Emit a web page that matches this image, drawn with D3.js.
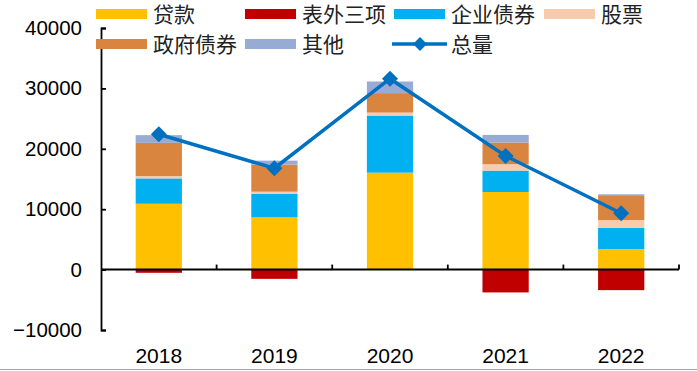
<!DOCTYPE html>
<head>
<meta charset="utf-8">
<title>社融结构</title>
<script src="https://cdnjs.cloudflare.com/ajax/libs/d3/7.8.5/d3.min.js"></script>
<style>
body { margin:0; background:#fff; }
text { font-family: "Liberation Sans", Arial, sans-serif; fill:#000; }
.leg text { font-family: "Liberation Sans", "Noto Sans CJK SC", sans-serif; fill:#222; }
</style>
</head>
<body>
<script>
// data
var years = ["2018", "2019", "2020", "2021", "2022"];
var loans    = [10900, 8660, 16050, 12850, 3400];   // 贷款
var offBS    = [-530, -1530, 0, -3780, -3400];      // 表外三项
var corpBond = [4200, 3910, 9450, 3540, 3530];      // 企业债券
var equity   = [380, 330, 500, 1060, 1280];         // 股票
var govBond  = [5500, 4480, 3220, 3580, 3980];      // 政府债券
var others   = [1280, 660, 1920, 1270, 280];        // 其他
var total    = [22400, 16780, 31600, 18820, 9320];  // 总量
var yTicks = [-10000, 0, 10000, 20000, 30000, 40000];

var keys = ["贷款", "表外三项", "企业债券", "股票", "政府债券", "其他"];
var colors = {"贷款":"#FFC000", "表外三项":"#C00000", "企业债券":"#00B0F0",
  "股票":"#F8CBAD", "政府债券":"#D9843F", "其他":"#97ABD4"};
var lineColor = "#0070C0";

var rows = years.map(function(y, i){
  return {year:y, "贷款":loans[i], "表外三项":offBS[i], "企业债券":corpBond[i],
    "股票":equity[i], "政府债券":govBond[i], "其他":others[i], total:total[i]};
});

var svg = d3.select("body").append("svg")
  .attr("width", 697).attr("height", 371);

var x = d3.scaleBand().domain(years).range([101, 679]).padding(0);
var y = d3.scaleLinear().domain([-10000, 40000]).range([330, 28]);
var barW = x.bandwidth() * 0.4;

var series = d3.stack().keys(keys).offset(d3.stackOffsetDiverging)(rows);

svg.append("g").selectAll("g")
  .data(series)
  .enter().append("g")
  .attr("fill", function(d){ return colors[d.key]; })
  .selectAll("rect")
  .data(function(d){ return d; })
  .enter().append("rect")
  .attr("x", function(d){ return x(d.data.year) + (x.bandwidth() - barW) / 2; })
  .attr("width", barW)
  .attr("y", function(d){ return y(Math.max(d[0], d[1])); })
  .attr("height", function(d){ return Math.abs(y(d[0]) - y(d[1])); });

// y axis, ticks pointing inward
var yAxis = d3.axisLeft(y).tickValues(yTicks).tickSizeInner(-5).tickSizeOuter(-5)
  .tickPadding(19).tickFormat(d3.format("d"));
var ga = svg.append("g").attr("transform", "translate(101,0)").call(yAxis);
ga.selectAll("path, line").attr("stroke", "#000").attr("stroke-width", 1.8);
ga.selectAll("text").style("font-size", "20.5px").attr("fill", "#000");

// x axis along zero, ticks at category boundaries
var y0 = y(0);
svg.append("line").attr("x1", x.range()[0]).attr("x2", x.range()[1])
  .attr("y1", y0).attr("y2", y0).attr("stroke", "#000").attr("stroke-width", 2);
svg.append("g").selectAll("line")
  .data(years)
  .enter().append("line")
  .attr("x1", function(d){ return x(d) + x.step(); })
  .attr("x2", function(d){ return x(d) + x.step(); })
  .attr("y1", y0).attr("y2", y0 - 5)
  .attr("stroke", "#000").attr("stroke-width", 1.8);
svg.append("g").selectAll("text")
  .data(years)
  .enter().append("text")
  .attr("x", function(d){ return x(d) + x.bandwidth() / 2; })
  .attr("y", 363)
  .attr("text-anchor", "middle")
  .style("font-size", "21px")
  .text(function(d){ return d; });

// total line
var line = d3.line()
  .x(function(d){ return x(d.year) + x.bandwidth() / 2; })
  .y(function(d){ return y(d.total); });
svg.append("path").datum(rows)
  .attr("d", line).attr("fill", "none")
  .attr("stroke", lineColor).attr("stroke-width", 3.5);

var diamond = "M0,-8L8,0L0,8L-8,0Z";
svg.append("g").selectAll("path")
  .data(rows)
  .enter().append("path")
  .attr("d", diamond)
  .attr("transform", function(d){
    return "translate(" + (x(d.year) + x.bandwidth() / 2) + "," + y(d.total) + ")";
  })
  .attr("fill", lineColor);

// legend
var legItems = [
  {name:"贷款", col:0, row:0}, {name:"表外三项", col:1, row:0},
  {name:"企业债券", col:2, row:0}, {name:"股票", col:3, row:0},
  {name:"政府债券", col:0, row:1}, {name:"其他", col:1, row:1},
  {name:"总量", col:2, row:1, line:true}
];
var legX = [96, 245, 394, 544];
var leg = svg.append("g").attr("class", "leg");
var li = leg.selectAll("g").data(legItems).enter().append("g")
  .attr("transform", function(d){ return "translate(" + legX[d.col] + "," + (14 + d.row * 30) + ")"; });
li.filter(function(d){ return !d.line; }).append("rect")
  .attr("x", 0).attr("y", -5).attr("width", 51).attr("height", 10)
  .attr("fill", function(d){ return colors[d.name]; });
var ll = li.filter(function(d){ return d.line; });
ll.append("line").attr("x1", -2).attr("x2", 53).attr("y1", 0).attr("y2", 0)
  .attr("stroke", lineColor).attr("stroke-width", 3.5);
ll.append("path").attr("d", "M0,-7L7,0L0,7L-7,0Z")
  .attr("transform", "translate(26,0)").attr("fill", lineColor);
li.append("text")
  .attr("x", 57).attr("y", 0)
  .attr("dy", "0.36em")
  .style("font-size", "21px")
  .text(function(d){ return d.name; });

// bottom frame line
svg.append("line").attr("x1", 0).attr("x2", 697).attr("y1", 369.5).attr("y2", 369.5)
  .attr("stroke", "#8EA9DB").attr("stroke-width", 1);
</script>
</body>
